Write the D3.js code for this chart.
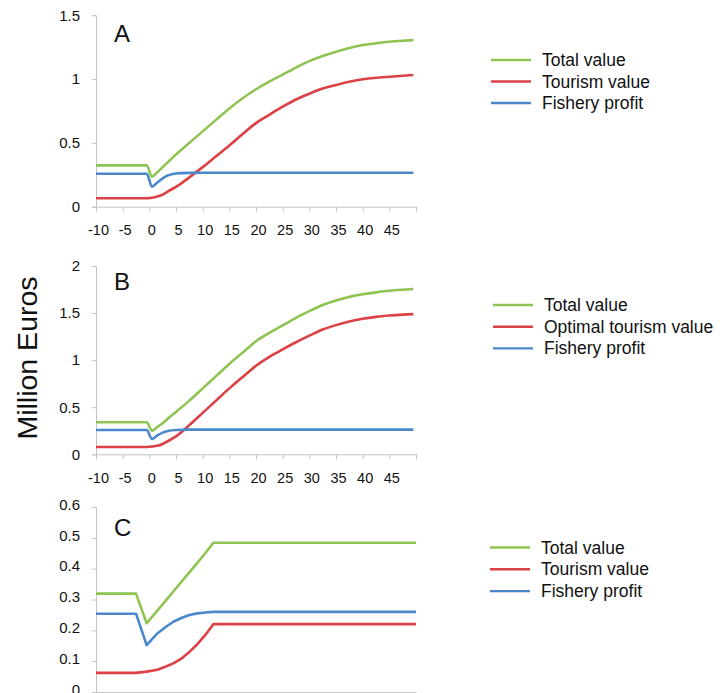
<!DOCTYPE html>
<html>
<head>
<meta charset="utf-8">
<script src="https://cdn.jsdelivr.net/npm/d3@7/dist/d3.min.js"></script>
<style>
  html, body { margin: 0; padding: 0; background: #fff; }
  svg { display: block; }
  text { font-family: "Liberation Sans", Arial, Helvetica, sans-serif; fill: #111; }
</style>
</head>
<body>
<svg id="chart" width="726" height="693"></svg>
<script>
// ---------- data ----------
const xTicks = [-10, -5, 0, 5, 10, 15, 20, 25, 30, 35, 40, 45, 50];
const xTickLabels = ["-10", "-5", "0", "5", "10", "15", "20", "25", "30", "35", "40", "45", ""];

const yearsAB = [-10, -0.5, 0.5, 1.5, 2.5, 3.5, 5, 7.5, 10, 12.5, 15, 17.5, 20, 22.5, 25, 27.5, 30, 32.5, 35, 37.5, 40, 42.5, 45, 47.5, 49.5];

const totalA   = [0.324, 0.324, 0.235, 0.27, 0.31, 0.35, 0.41, 0.50, 0.59, 0.68, 0.77, 0.85, 0.92, 0.98, 1.035, 1.09, 1.14, 1.18, 1.214, 1.243, 1.266, 1.28, 1.292, 1.30, 1.305];
const tourismA = [0.066, 0.066, 0.07, 0.08, 0.095, 0.12, 0.155, 0.23, 0.31, 0.395, 0.48, 0.57, 0.655, 0.72, 0.783, 0.84, 0.885, 0.925, 0.953, 0.978, 0.998, 1.01, 1.018, 1.026, 1.031];
const fisheryA = [0.258, 0.258, 0.157, 0.19, 0.222, 0.245, 0.26, 0.265, 0.266, 0.266, 0.266, 0.266, 0.266, 0.266, 0.266, 0.266, 0.266, 0.266, 0.266, 0.266, 0.266, 0.266, 0.266, 0.266, 0.266];

const totalB   = [0.340, 0.340, 0.251, 0.29, 0.33, 0.38, 0.45, 0.57, 0.70, 0.83, 0.96, 1.08, 1.20, 1.29, 1.37, 1.45, 1.52, 1.585, 1.633, 1.672, 1.70, 1.72, 1.737, 1.748, 1.755];
const tourismB = [0.078, 0.078, 0.082, 0.09, 0.11, 0.14, 0.19, 0.31, 0.44, 0.57, 0.70, 0.82, 0.94, 1.035, 1.115, 1.19, 1.26, 1.325, 1.372, 1.41, 1.439, 1.46, 1.474, 1.484, 1.489];
const fisheryB = [0.258, 0.258, 0.163, 0.20, 0.23, 0.248, 0.258, 0.262, 0.262, 0.262, 0.262, 0.262, 0.262, 0.262, 0.262, 0.262, 0.262, 0.262, 0.262, 0.262, 0.262, 0.262, 0.262, 0.262, 0.262];

const yearsC   = [-10, -2.5, -0.5, 1.5, 3, 4.5, 6, 7.5, 9, 10.5, 12, 50];
const totalC   = [0.319, 0.319, 0.223, 0.264, 0.295, 0.326, 0.357, 0.388, 0.419, 0.450, 0.484, 0.484];
const tourismC = [0.062, 0.062, 0.066, 0.072, 0.082, 0.093, 0.108, 0.13, 0.155, 0.185, 0.22, 0.22];
const fisheryC = [0.254, 0.254, 0.152, 0.19, 0.21, 0.228, 0.24, 0.25, 0.255, 0.258, 0.26, 0.26];

const yTicksA = [0, 0.5, 1, 1.5];
const yTicksB = [0, 0.5, 1, 1.5, 2];
const yTicksC = [0, 0.1, 0.2, 0.3, 0.4, 0.5, 0.6];

const legendA = ["Total value", "Tourism value", "Fishery profit"];
const legendB = ["Total value", "Optimal tourism value", "Fishery profit"];
const legendC = ["Total value", "Tourism value", "Fishery profit"];

const colors = ["#8fc452", "#dc4146", "#4a88cb"];
const yTitle = "Million Euros";

// ---------- drawing ----------
const svg = d3.select("#chart");
svg.append("rect").attr("width", 726).attr("height", 693).attr("fill", "#fff");

const axisColor = "#c4c4c4";

function panel(cfg) {
  const x = d3.scaleLinear().domain([-10, 50]).range([96, 416]);
  const y = d3.scaleLinear().domain([0, cfg.yMax]).range([cfg.y0, cfg.yTop]);
  const g = svg.append("g");

  // y axis
  const ya = g.append("g").attr("transform", "translate(96,0)")
    .call(d3.axisLeft(y).tickValues(cfg.yTicks).tickSize(4).tickPadding(12)
      .tickFormat(d => String(d)));
  ya.selectAll("path, line").attr("stroke", axisColor);
  ya.selectAll("text").style("font-size", "15px").attr("fill", "#111");
  if (cfg.labelShift) ya.selectAll("text").attr("dy", cfg.labelShift);

  // x axis
  const xa = g.append("g").attr("transform", `translate(0,${cfg.y0})`)
    .call(d3.axisBottom(x).tickValues(cfg.showX ? xTicks : []).tickSize(5).tickPadding(13)
      .tickSizeOuter(0)
      .tickFormat((d, i) => xTickLabels[i]));
  xa.selectAll("path, line").attr("stroke", axisColor);
  xa.selectAll("text").style("font-size", "14.5px").attr("fill", "#111").attr("dx", "2");

  // lines
  const line = d3.line()
    .x((d, i) => x(cfg.years[i]))
    .y(d => y(d))
    .curve(cfg.curve);
  cfg.series.forEach((s, k) => {
    g.append("path").datum(s)
      .attr("fill", "none")
      .attr("stroke", colors[k])
      .attr("stroke-width", 2.6)
      .attr("stroke-linejoin", "round")
      .attr("d", line);
  });

  // panel letter
  g.append("text").attr("x", 114).attr("y", cfg.letterY)
    .style("font-size", "24px").text(cfg.letter);

  // legend
  const lg = g.append("g");
  cfg.legend.forEach((name, k) => {
    const ly = cfg.legY + k * cfg.legStep;
    lg.append("line").attr("x1", cfg.legX).attr("x2", cfg.legX + 40)
      .attr("y1", ly).attr("y2", ly)
      .attr("stroke", colors[k]).attr("stroke-width", 2.4);
    lg.append("text").attr("x", cfg.legX + 51).attr("y", ly + 6)
      .style("font-size", "17.5px").text(name);
  });
}

panel({ yMax: 1.5, y0: 206.7, yTop: 15.2, yTicks: yTicksA, showX: true,
  years: yearsAB, series: [totalA, tourismA, fisheryA], curve: d3.curveMonotoneX,
  letter: "A", letterY: 42, legend: legendA, legX: 491, legY: 60, legStep: 21.5 });

panel({ yMax: 2, y0: 454.3, yTop: 266, yTicks: yTicksB, showX: true,
  years: yearsAB, series: [totalB, tourismB, fisheryB], curve: d3.curveMonotoneX,
  letter: "B", letterY: 289.5, legend: legendB, legX: 493, legY: 305, legStep: 21.7 });

panel({ yMax: 0.6, y0: 692, yTop: 507, yTicks: yTicksC, showX: false,
  years: yearsC, series: [totalC, tourismC, fisheryC], curve: d3.curveLinear,
  letter: "C", letterY: 535.5, legend: legendC, legX: 490, legY: 547.5, legStep: 21.8,
  labelShift: "0.15em" });

// y title
svg.append("text")
  .attr("transform", "translate(37,358) rotate(-90)")
  .attr("text-anchor", "middle")
  .style("font-size", "28.5px")
  .text(yTitle);
</script>
</body>
</html>
